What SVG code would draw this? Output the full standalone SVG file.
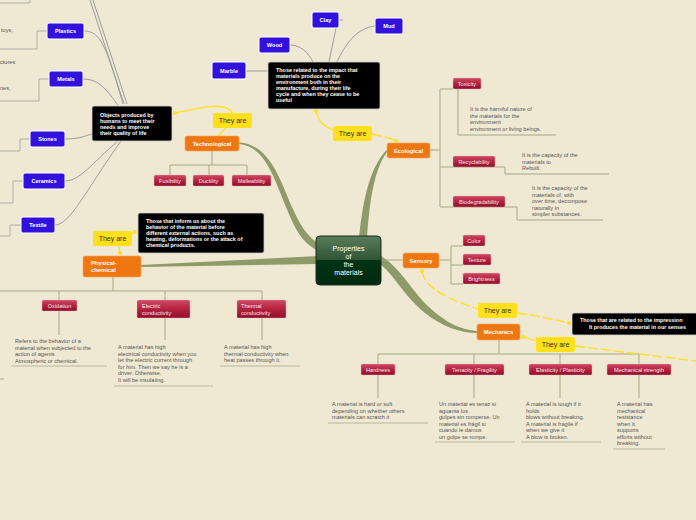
<svg xmlns="http://www.w3.org/2000/svg" width="696" height="520" viewBox="0 0 696 520">
<defs>
<linearGradient id="gc" x1="0" y1="0" x2="0" y2="1"><stop offset="0" stop-color="#5a7c5a"/><stop offset="0.5" stop-color="#2f5434"/><stop offset="0.5" stop-color="#003314"/><stop offset="1" stop-color="#002a10"/></linearGradient>
<linearGradient id="gr" x1="0" y1="0" x2="0" y2="1"><stop offset="0" stop-color="#cf4a62"/><stop offset="0.5" stop-color="#b5223f"/><stop offset="1" stop-color="#8e0f2a"/></linearGradient>
<style>
text{font-family:"Liberation Sans",Arial,sans-serif}
.blue rect{fill:#3311dd;stroke:#fff;stroke-width:1}
.blue text{fill:#fff;font-size:5.6px;font-weight:bold;text-anchor:middle}
.org rect{fill:#ee7711;stroke:#f6a860;stroke-width:0.6}
.org text{fill:#fff;font-size:5.8px;font-weight:bold}
.red rect{fill:url(#gr);stroke:#e8b8c0;stroke-width:0.4}
.red text{fill:#fbe6ea;font-size:5.6px}
.note rect{fill:#000;stroke:#d0d0d0;stroke-width:0.8}
.note text{fill:#fff;font-size:5.4px;font-weight:bold}
.yel rect{fill:#ffe01a}
.yel text{fill:#333;font-size:7px;text-anchor:middle}
.desc{fill:#555;font-size:5.6px}
.gray{fill:none;stroke:#9c9c9c;stroke-width:1}
.lg{fill:none;stroke:#a9a9a0;stroke-width:0.9}
.ol{fill:none;stroke:#a3ab80;stroke-width:1}
.ul{fill:none;stroke:#c9c7b0;stroke-width:1.4}
.br{fill:#8e9b68}
.yl{fill:none;stroke:#ffe01a;stroke-width:1.3}
.yd{fill:none;stroke:#ffe01a;stroke-width:1.3;stroke-dasharray:10 3}
.dot{fill:#ffe01a}
</style>
</defs>
<rect width="696" height="520" fill="#efe8d3"/>

<g id="connectors">
<!-- main branches -->
<path class="br" d="M322,246 C305,236 299,222 291,205 C279,176 268,144 239,142.5 L239,144 C265,146 274,178 286,207 C294,227 301,242 318,251 Z"/>
<path class="br" d="M359,238 C362,210 367,170 387,149.5 L387,152 C372,172 369,212 367,238 Z"/>
<path class="br" d="M141,265 L318,256 L318,264 L141,267 Z"/>
<path class="br" d="M379,263 C396,277 404,296 425,313 C441,326 460,333 477,333 L477,331 C461,330 445,322 430,308 C412,292 401,268 381,256 Z"/>
<path class="ol" d="M381,260 L403,260"/>
<!-- technological children -->
<path class="ol" d="M212,151 V165 M170,165 H247 M170,165 V175 M209,165 V175 M247,165 V175"/>
<!-- ecological children -->
<path class="ol" d="M430,150 H440 M440,89 V207 M440,89 H453 M440,167 H505 V174 H609 M440,207 H517 V220 H603 M458,89 V135 H556"/>
<path class="ul" d="M458,135 H556 M505,174 H609 M517,220 H603"/>
<!-- sensory children -->
<path class="ol" d="M439,260 H451 M451,246 V284 M451,246 H463 M451,265 H463 M451,284 H463"/>
<!-- mechanics children -->
<path class="ol" d="M499,340 V354 M378,354 H639 M378,354 V364 M474,354 V364 M560,354 V364 M639,354 V364"/>
<path class="ol" d="M378,375 V398 M474,375 V398 M560,375 V398 M639,375 V398"/>
<path class="ul" d="M328,423 H428 M435,442 H515 M521,442 H601 M613,449 H665"/>
<!-- physical children -->
<path class="ol" d="M113,277 V291 M0,291 H262 M59,291 V300 M165,291 V300 M262,291 V300 M59,311 V335 M165,318 V340 M262,318 V340 M0,379 H4"/>
<path class="ul" d="M11,366 H107 M114,386 H213 M220,366 H300"/>
<!-- gray connectors to materials -->
<path class="gray" d="M90,0 L124,104 M93,0 L127,104" stroke-width="1.5"/>
<path class="gray" d="M84,31 C100,31 106,45 123,104 M83,79 C100,79 108,92 118,105 M65,139 C80,139 84,136 92,134 M65,181 C80,181 92,163 118,141 M55,225 C70,225 86,190 121,141"/>
<path class="gray" d="M246,71 L268,71 M290,45 C300,45 308,52 313,62 M336,28 L329,62 M375,26 C356,28 345,45 337,62 M339,20 H343"/>
<path class="lg" d="M0,3 H30 V0 M47,31 H37 V49 H0 M49,79 H39 V101 H0 M30,139 H20 V151 H0 M23,181 H13 V203 H0 M21,225 H10 V236 H0"/>
<!-- yellow -->
<circle class="dot" cx="175" cy="113" r="2"/>
<path class="yl" d="M175,113 C195,109 226,100 232,113 M226,128 L218,136"/>
<circle class="dot" cx="316" cy="111" r="2"/>
<path class="yl" d="M316,111 C318,122 325,127 333,130"/>
<path class="yd" d="M372,134 C381,136 390,138 396,141"/>
<circle class="dot" cx="396" cy="141" r="2"/>
<circle class="dot" cx="135" cy="232" r="2"/>
<path class="yl" d="M135,232 L131,235 M119,246 L120,253"/>
<circle class="dot" cx="120" cy="253" r="2"/>
<circle class="dot" cx="422" cy="271" r="2"/>
<path class="yd" d="M422,271 C425,290 452,300 478,309"/>
<path class="yd" d="M517,313 C540,316 555,320 569,323"/>
<circle class="dot" cx="569" cy="323" r="2"/>
<circle class="dot" cx="523" cy="337" r="2"/>
<path class="yl" d="M523,337 L536,341"/>
<path class="yd" d="M575,346 L696,361"/>
</g>

<g id="center">
<rect x="316" y="236" width="65" height="49" rx="4" fill="url(#gc)" stroke="#1a2e1a" stroke-width="1"/>
<text x="348.5" y="251" fill="#fff" font-size="7" text-anchor="middle">Properties</text>
<text x="348.5" y="259" fill="#fff" font-size="7" text-anchor="middle">of</text>
<text x="348.5" y="267" fill="#fff" font-size="7" text-anchor="middle">the</text>
<text x="348.5" y="275" fill="#fff" font-size="7" text-anchor="middle">materials</text>
</g>

<g id="technological" class="org"><rect x="185" y="136" width="54" height="15" rx="2"/><text x="212" y="145.5" text-anchor="middle">Technological</text></g>
<g id="ecological" class="org"><rect x="387" y="143" width="43" height="15" rx="2"/><text x="408.5" y="152.5" text-anchor="middle">Ecological</text></g>
<g id="physical" class="org"><rect x="83" y="256" width="58" height="21" rx="2"/><text x="91" y="264.5">Physical-</text><text x="91" y="271.5">chemical</text></g>
<g id="sensory" class="org"><rect x="403" y="253" width="36" height="15" rx="2"/><text x="421" y="262.5" text-anchor="middle">Sensory</text></g>
<g id="mechanics" class="org"><rect x="477" y="324" width="43" height="16" rx="2"/><text x="498.5" y="334" text-anchor="middle">Mechanics</text></g>

<g id="fusibility" class="red"><rect x="154" y="175" width="32" height="11" rx="1.5"/><text x="170" y="182.5" text-anchor="middle">Fusibility</text></g>
<g id="ductility" class="red"><rect x="193" y="175" width="31" height="11" rx="1.5"/><text x="208.5" y="182.5" text-anchor="middle">Ductility</text></g>
<g id="malleability" class="red"><rect x="232" y="175" width="39" height="11" rx="1.5"/><text x="251.5" y="182.5" text-anchor="middle">Malleability</text></g>

<g id="toxicity" class="red"><rect x="453" y="78" width="28" height="11" rx="1.5"/><text x="467" y="85.5" text-anchor="middle">Toxicity</text></g>
<g id="recyclability" class="red"><rect x="453" y="156" width="42" height="11" rx="1.5"/><text x="474" y="163.5" text-anchor="middle">Recyclability</text></g>
<g id="biodegradability" class="red"><rect x="453" y="196" width="52" height="11" rx="1.5"/><text x="479" y="203.5" text-anchor="middle">Biodegradability</text></g>

<g id="color" class="red"><rect x="463" y="235" width="22" height="11" rx="1.5"/><text x="474" y="242.5" text-anchor="middle">Color</text></g>
<g id="texture" class="red"><rect x="463" y="254" width="28" height="11" rx="1.5"/><text x="477" y="261.5" text-anchor="middle">Texture</text></g>
<g id="brightness" class="red"><rect x="463" y="273" width="37" height="11" rx="1.5"/><text x="481.5" y="280.5" text-anchor="middle">Brightness</text></g>

<g id="hardness" class="red"><rect x="361" y="364" width="34" height="11" rx="1.5"/><text x="378" y="371.5" text-anchor="middle">Hardness</text></g>
<g id="tenacity" class="red"><rect x="445" y="364" width="59" height="11" rx="1.5"/><text x="474.5" y="371.5" text-anchor="middle">Tenacity / Fragility</text></g>
<g id="elasticity" class="red"><rect x="529" y="364" width="63" height="11" rx="1.5"/><text x="560.5" y="371.5" text-anchor="middle">Elasticity / Plasticity</text></g>
<g id="strength" class="red"><rect x="607" y="364" width="64" height="11" rx="1.5"/><text x="639" y="371.5" text-anchor="middle">Mechanical strength</text></g>

<g id="oxidation" class="red"><rect x="42" y="300" width="35" height="11" rx="1.5"/><text x="59.5" y="307.5" text-anchor="middle">Oxidation</text></g>
<g id="electric" class="red"><rect x="137" y="300" width="53" height="18" rx="1.5"/><text x="142" y="308">Electric</text><text x="142" y="315">conductivity</text></g>
<g id="thermal" class="red"><rect x="237" y="300" width="49" height="18" rx="1.5"/><text x="241" y="308">Thermal</text><text x="241" y="315">conductivity</text></g>

<g id="desc-toxicity" class="desc"><text x="470" y="111">It is the harmful nature of</text><text x="470" y="117.5">the materials for the</text><text x="470" y="124">environment</text><text x="470" y="130.5">environment or living beings.</text></g>
<g id="desc-recyclability" class="desc"><text x="522" y="157">It is the capacity of the</text><text x="522" y="163.5">materials to</text><text x="522" y="170">Rebuilt.</text></g>
<g id="desc-biodegradability" class="desc"><text x="532" y="190">It is the capacity of the</text><text x="532" y="196.5">materials of, with</text><text x="532" y="203">over time, decompose</text><text x="532" y="209.5">naturally in</text><text x="532" y="216">simpler substances.</text></g>
<g id="desc-hardness" class="desc"><text x="332" y="406">A material is hard or soft</text><text x="332" y="412.5">depending on whether others</text><text x="332" y="419">materials can scratch it</text></g>
<g id="desc-tenacity" class="desc"><text x="439" y="406">Un material es tenaz si</text><text x="439" y="412.5">aguanta los</text><text x="439" y="419">golpes sin romperse. Un</text><text x="439" y="425.5">material es frágil si</text><text x="439" y="432">cuando le damos</text><text x="439" y="438.5">un golpe se rompe.</text></g>
<g id="desc-elasticity" class="desc"><text x="526" y="406">A material is tough if it</text><text x="526" y="412.5">holds</text><text x="526" y="419">blows without breaking.</text><text x="526" y="425.5">A material is fragile if</text><text x="526" y="432">when we give it</text><text x="526" y="438.5">A blow is broken.</text></g>
<g id="desc-strength" class="desc"><text x="617" y="406">A material has</text><text x="617" y="412.5">mechanical</text><text x="617" y="419">resistance</text><text x="617" y="425.5">when it</text><text x="617" y="432">supports</text><text x="617" y="438.5">efforts without</text><text x="617" y="445">breaking.</text></g>
<g id="desc-oxidation" class="desc"><text x="15" y="343">Refers to the behavior of a</text><text x="15" y="349.5">material when subjected to the</text><text x="15" y="356">action of agents</text><text x="15" y="362.5">Atmospheric or chemical.</text></g>
<g id="desc-electric" class="desc"><text x="118" y="349">A material has high</text><text x="118" y="355.5">electrical conductivity when you</text><text x="118" y="362">let the electric current through</text><text x="118" y="368.5">for him. Then we say he is a</text><text x="118" y="375">driver. Otherwise,</text><text x="118" y="381.5">It will be insulating.</text></g>
<g id="desc-thermal" class="desc"><text x="224" y="349">A material has high</text><text x="224" y="355.5">thermal conductivity when</text><text x="224" y="362">heat passes through it.</text></g>
<g id="left-texts" class="desc" fill="#444"><text x="1" y="32">toys,</text><text x="0" y="64">ctures</text><text x="0" y="90">nes,</text></g>

<g id="note-objects" class="note"><rect x="92" y="106" width="80" height="35" rx="2"/><text x="100" y="117">Objects produced by</text><text x="100" y="123">humans to meet their</text><text x="100" y="129">needs and improve</text><text x="100" y="135">their quality of life</text></g>
<g id="note-ecological" class="note"><rect x="268" y="62" width="112" height="47" rx="2"/><text x="276" y="72">Those related to the impact that</text><text x="276" y="78">materials produce on the</text><text x="276" y="84">environment both in their</text><text x="276" y="90">manufacture, during their life</text><text x="276" y="96">cycle and when they cease to be</text><text x="276" y="102">useful</text></g>
<g id="note-physical" class="note"><rect x="138" y="213" width="126" height="40" rx="2"/><text x="146" y="223">Those that inform us about the</text><text x="146" y="229">behavior of the material before</text><text x="146" y="235">different external actions, such as</text><text x="146" y="241">heating, deformations or the attack of</text><text x="146" y="247">chemical products.</text></g>
<g id="note-sensory" class="note"><rect x="572" y="313" width="130" height="22" rx="2"/><text x="580" y="322">Those that are related to the impression</text><text x="589" y="328.5">It produces the material in our senses</text></g>

<g id="they-tech" class="yel"><rect x="213" y="113" width="39" height="15" rx="2"/><text x="232.5" y="123">They are</text></g>
<g id="they-eco" class="yel"><rect x="333" y="126" width="39" height="15" rx="2"/><text x="352.5" y="136">They are</text></g>
<g id="they-phys" class="yel"><rect x="93" y="231" width="39" height="15" rx="2"/><text x="112.5" y="241">They are</text></g>
<g id="they-sens" class="yel"><rect x="478" y="303" width="39" height="15" rx="2"/><text x="497.5" y="313">They are</text></g>
<g id="they-mech" class="yel"><rect x="536" y="337" width="39" height="15" rx="2"/><text x="555.5" y="347">They are</text></g>

<g id="plastics" class="blue"><rect x="47" y="23" width="37" height="16" rx="2"/><text x="65.5" y="33">Plastics</text></g>
<g id="metals" class="blue"><rect x="49" y="71" width="34" height="16" rx="2"/><text x="66" y="81">Metals</text></g>
<g id="stones" class="blue"><rect x="30" y="131" width="35" height="16" rx="2"/><text x="47.5" y="141">Stones</text></g>
<g id="ceramics" class="blue"><rect x="23" y="173" width="42" height="16" rx="2"/><text x="44" y="183">Ceramics</text></g>
<g id="textile" class="blue"><rect x="21" y="217" width="34" height="16" rx="2"/><text x="38" y="227">Textile</text></g>
<g id="marble" class="blue"><rect x="212" y="62" width="34" height="17" rx="2"/><text x="229" y="72.5">Marble</text></g>
<g id="wood" class="blue"><rect x="259" y="37" width="31" height="16" rx="2"/><text x="274.5" y="47">Wood</text></g>
<g id="clay" class="blue"><rect x="312" y="12" width="27" height="16" rx="2"/><text x="325.5" y="22">Clay</text></g>
<g id="mud" class="blue"><rect x="375" y="18" width="28" height="16" rx="2"/><text x="389" y="28">Mud</text></g>
</svg>
